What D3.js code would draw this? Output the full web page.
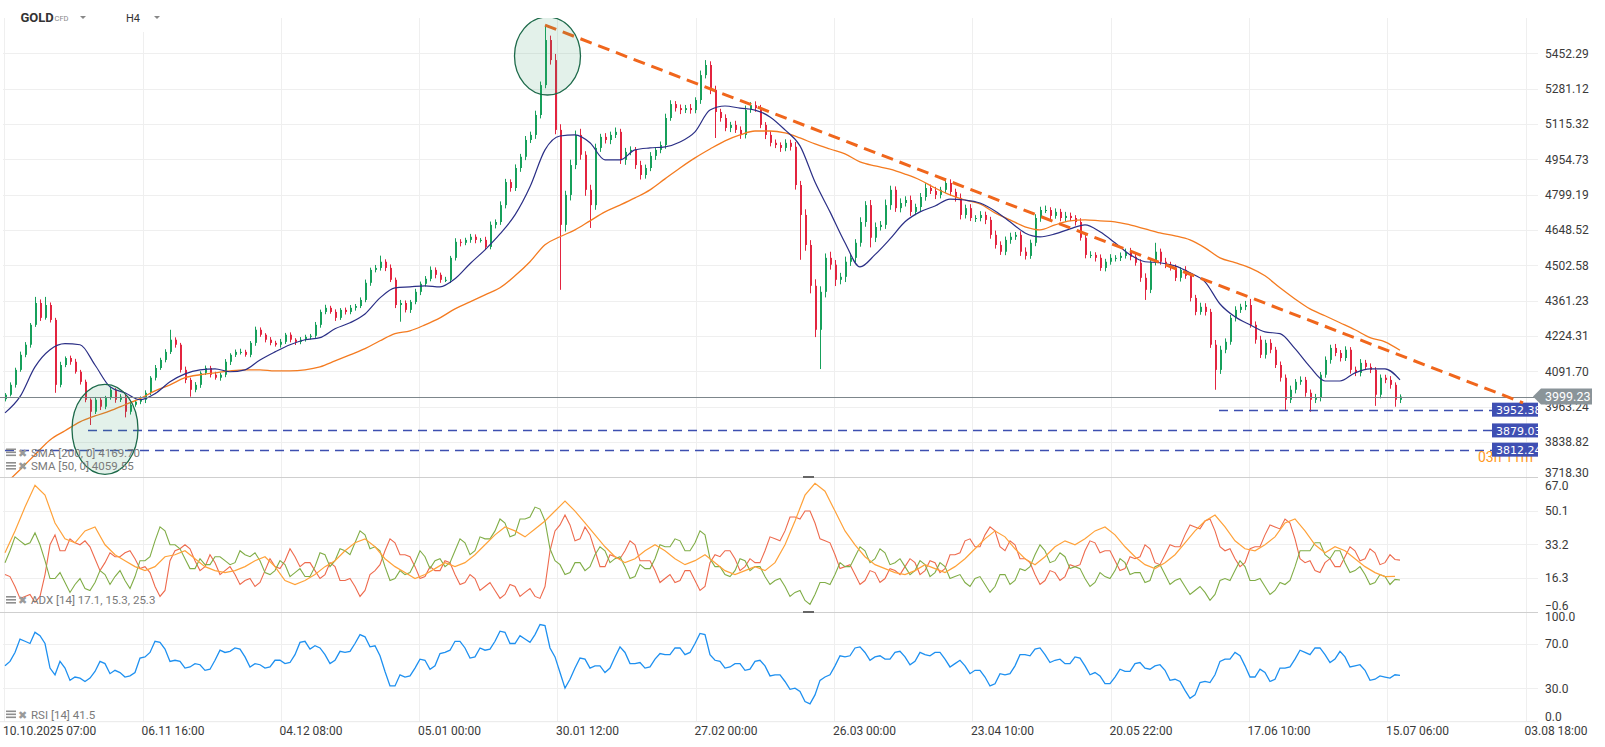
<!DOCTYPE html>
<html>
<head>
<meta charset="utf-8">
<script src="https://cdn.jsdelivr.net/npm/d3@7"></script>
<style>
  body { margin: 0; background: #fff; }
  svg text { font-family: Roboto, "Open Sans", sans-serif; }
</style>
</head>
<body>
<div id="chart"></div>
<script>
// ---- data ----
var firstOpen = 3990;
// closes, one bar per ~5 px of the original
var closes = [
  4006,4042,4097,4153,4191,4267,4352,4294,4344,4286,4042,4115,4141,4127,4090,4053,3988,3945,3988,3963,
  3995,4024,3988,3999,3945,3970,3981,3988,4013,4068,4104,4134,4164,4210,4191,4097,4060,4024,4042,4086,
  4104,4079,4068,4079,4127,4153,4164,4164,4153,4198,4248,4229,4210,4198,4191,4202,4229,4210,4202,4210,
  4221,4225,4267,4317,4333,4317,4294,4325,4317,4333,4340,4364,4432,4484,4492,4517,4492,4444,4344,4352,
  4325,4356,4396,4428,4448,4484,4464,4444,4444,4533,4599,4595,4607,4620,4607,4607,4578,4670,4682,4754,
  4854,4828,4916,4966,5042,5065,5157,5298,5518,5419,5088,4670,4798,4929,5065,4975,4820,4754,5006,5056,
  5042,5065,5079,4952,4988,4997,4929,4885,4916,4970,4997,5019,5143,5208,5189,5180,5189,5180,5227,5346,
  5395,5275,5171,5143,5097,5111,5088,5065,5180,5203,5189,5111,5065,5029,5019,5006,5029,5011,4841,4712,
  4586,4420,4248,4396,4533,4505,4444,4456,4517,4533,4595,4682,4754,4616,4661,4670,4754,4820,4741,4763,
  4776,4725,4746,4789,4828,4815,4798,4820,4850,4811,4785,4712,4741,4699,4699,4712,4691,4628,4586,4558,
  4607,4620,4628,4558,4541,4595,4699,4733,4733,4708,4725,4699,4708,4699,4682,4616,4545,4545,4533,4492,
  4517,4533,4533,4541,4558,4537,4513,4452,4404,4517,4558,4517,4505,4492,4452,4484,4460,4372,4317,4337,
  4317,4191,4097,4172,4202,4294,4325,4337,4344,4267,4210,4153,4198,4172,4115,4068,3988,4024,4053,4060,
  4013,3988,3995,4079,4134,4179,4160,4141,4172,4097,4086,4123,4108,4097,4006,4068,4060,4042,3988,3999.23
];
// wick length above the body, in $
var wickUp = [
  6,9,8,12,10,7,24,14,32,10,8,12,6,9,11,7,8,5,10,9,
  7,11,6,9,8,10,7,12,9,6,11,8,10,38,9,7,12,8,10,6,
  9,8,11,7,10,6,9,12,8,7,12,9,6,10,8,11,7,9,6,10,
  8,7,11,9,12,8,10,7,9,11,8,10,13,9,12,25,10,14,9,12,
  10,8,12,9,11,14,10,9,12,8,15,11,9,12,10,8,13,14,11,16,
  14,12,16,13,18,15,20,17,75,22,30,26,18,24,20,28,16,22,19,14,
  17,15,20,14,18,16,13,19,15,17,12,16,20,18,14,17,15,19,13,22,
  24,18,20,15,17,14,19,16,21,14,18,15,13,17,15,12,16,14,22,18,
  24,20,26,22,18,25,19,16,21,18,15,20,17,22,19,16,24,18,15,20,
  16,19,14,17,21,15,18,13,20,16,14,19,15,17,12,16,14,13,18,15,
  14,17,12,15,18,13,16,14,19,12,15,13,17,14,12,16,13,15,11,14,
  12,15,11,14,13,16,12,14,18,15,37,13,16,12,14,11,15,13,12,16,
  14,12,18,15,13,11,14,12,16,24,13,15,12,14,11,13,12,15,10,13,
  11,12,14,10,13,12,15,11,13,10,12,14,11,13,10,12,11,14,9,8
];
// wick length below the body, in $
var wickDn = [
  8,6,10,7,9,11,8,12,7,10,29,9,8,11,7,10,9,47,8,12,
  9,7,11,8,20,10,7,9,12,8,10,7,9,8,11,10,12,25,9,11,
  8,10,7,11,9,12,8,10,7,9,11,8,10,9,7,11,8,10,12,9,
  7,10,8,11,9,7,12,8,10,9,11,8,9,12,10,11,13,9,12,65,
  10,12,9,13,11,10,14,12,9,13,11,15,10,12,14,11,13,10,15,12,
  14,16,13,17,15,14,18,16,15,22,20,266,28,24,18,22,26,97,20,18,
  16,19,14,18,22,15,17,20,16,14,18,15,17,13,16,19,14,17,15,18,
  16,20,120,17,15,19,14,18,16,13,17,15,19,16,14,18,15,17,20,187,
  24,30,28,148,22,20,25,18,21,17,19,16,20,40,18,15,17,20,16,18,
  15,17,14,19,16,13,18,15,14,17,16,19,15,13,17,14,18,16,15,13,
  14,16,13,17,15,12,14,16,13,15,12,14,16,13,15,12,14,13,15,12,
  14,12,15,13,11,14,12,16,40,13,15,12,14,11,13,15,12,14,13,11,
  14,12,73,15,13,11,14,12,13,11,15,12,14,13,11,14,36,12,13,11,
  14,43,12,13,11,14,12,13,11,14,12,13,11,12,40,13,12,14,25,12
];
// moving averages, one value every 3 bars
var sma50 = [
  3941,3999,4108,4172,4195,4191,4115,4035,4013,3988,4010,4053,4082,4097,4101,4090,4097,4134,4164,4191,
  4210,4218,4252,4275,4309,4372,4412,4416,4420,4416,4448,4509,4566,4632,4712,4833,4997,5060,5065,5029,
  4952,4952,4997,5006,5011,5033,5079,5180,5199,5189,5180,5148,5088,5015,4854,4725,4595,4496,4546,4611,
  4683,4725,4750,4780,4776,4763,4729,4683,4636,4620,4632,4653,4670,4641,4595,4546,4517,4513,4500,4472,
  4436,4348,4298,4267,4240,4233,4176,4108,4056,4056,4086,4101,4101,4060
];
var sma200 = [
  3695,3744,3795,3846,3878,3909,3930,3948,3970,3992,4020,4042,4068,4079,4086,4093,4097,4097,4093,4093,
  4097,4108,4130,4153,4176,4206,4233,4244,4267,4294,4329,4356,4384,4412,4460,4517,4587,4620,4649,4687,
  4725,4754,4785,4820,4868,4916,4961,5001,5038,5065,5083,5083,5074,5051,5024,5001,4979,4943,4925,4911,
  4889,4863,4828,4798,4776,4759,4721,4691,4662,4649,4670,4687,4691,4687,4683,4670,4653,4636,4624,4607,
  4574,4533,4513,4492,4460,4412,4368,4329,4302,4275,4248,4218,4202,4170
];
// ADX(14) main line, one value every 2 bars
var adxLine = [
  29,40,52,63,58,44,36,34,40,42,33,28,25,22,20,22,27,28,30,26,
  22,20,19,20,22,25,27,22,15,13,15,18,22,25,30,34,36,32,26,22,
  19,16,18,21,24,22,24,28,33,38,42,40,37,41,45,50,55,50,44,38,
  32,27,24,26,30,33,30,26,23,25,28,24,20,18,20,22,20,24,33,45,
  58,64,60,50,40,33,27,23,21,19,18,20,23,21,19,22,26,31,36,40,
  37,31,26,23,27,32,35,33,36,40,42,38,32,27,23,21,24,28,34,40,
  45,48,42,35,31,30,33,37,44,46,40,33,29,32,30,26,22,19,17,17.1
];
// +DI and -DI, one value per bar
var plusDI = [
  24,30,37,35,33,34,39,33,25,16,16,19,14,9,13,16,11,10,14,20,18,13,17,20,15,11,17,25,25,27,35,42,40,33,33,31,26,21,21,26,
  23,23,27,27,25,23,24,30,28,27,29,25,19,18,20,25,23,17,19,21,17,17,22,29,28,22,25,31,30,28,34,40,38,31,32,30,22,15,16,20,
  18,19,24,30,27,21,25,26,22,24,30,36,34,28,30,37,36,36,40,46,44,37,38,46,46,47,52,51,45,31,25,23,18,19,24,24,20,22,28,32,
  30,24,26,27,22,16,17,23,21,21,26,33,32,32,36,35,30,30,34,40,38,26,22,22,18,17,20,26,25,20,22,22,17,13,15,16,12,7,9,10,
  5,3,8,14,14,13,18,24,22,22,27,32,30,24,26,31,29,23,24,26,22,18,20,25,23,17,19,24,22,16,17,18,14,12,16,17,13,9,12,18,
  18,13,15,21,20,22,28,33,30,24,25,29,27,21,22,21,16,12,14,19,17,16,20,26,24,18,19,19,14,15,22,23,18,13,15,16,12,8,10,12,
  9,5,8,15,16,15,20,25,22,15,15,16,12,8,10,14,13,15,22,30,30,30,34,34,28,26,30,30,24,19,20,22,18,13,14,18,17,13,15.6,15.3
];
var minusDI = [
  18,17,12,6,7,8,4,7,18,33,38,30,30,36,34,33,35,32,26,20,24,29,27,27,29,30,26,21,22,19,12,7,10,25,30,31,33,31,25,20,
  22,28,24,18,20,22,18,13,15,16,12,14,20,26,22,21,25,31,27,22,24,24,20,16,18,24,22,15,15,16,12,7,10,18,20,23,30,36,34,28,
  28,27,22,16,17,22,20,20,25,24,18,13,14,18,16,10,12,14,10,6,8,13,12,7,9,11,7,6,12,30,40,43,48,43,35,36,42,38,30,22,
  22,28,27,26,30,35,33,25,25,25,20,14,16,18,14,15,20,20,15,10,12,24,28,27,30,30,26,20,22,26,24,24,30,37,36,35,40,47,47,46,
  50,50,44,36,35,34,28,21,22,23,18,13,15,20,19,14,16,21,20,18,22,26,24,18,20,25,24,19,21,28,28,29,35,36,32,32,38,42,40,32,
  30,35,33,26,26,24,18,13,15,20,19,15,17,23,22,23,30,35,34,29,30,30,25,20,21,27,26,27,33,31,24,23,28,33,32,32,38,43,42,41,
  45,46,40,32,30,31,26,22,24,31,32,32,38,43,42,41,46,44,36,26,24,25,20,19,24,26,22,22,27,32,30,25,26,31,29,23,24,28,25.6,25.3
];
// RSI(14), one value per bar
var rsi = [
  50,54,62,74,72,70,80,77,70,48,42,54,48,37,40,39,36,39,45,54,52,43,46,44,40,41,44,57,58,62,72,71,65,54,55,54,48,49,52,51,
  46,47,55,64,62,63,66,65,58,49,52,51,48,49,55,55,52,53,60,71,72,65,68,66,60,52,55,63,62,63,70,78,76,67,68,59,45,32,32,42,
  40,41,48,56,55,47,50,61,62,64,72,72,66,57,58,66,64,65,72,81,80,70,70,77,74,71,78,87,86,66,58,44,30,38,48,57,56,48,50,50,
  44,48,58,67,62,52,52,53,48,49,56,61,60,60,66,66,60,62,70,79,78,60,55,54,48,49,52,52,46,47,54,55,50,41,42,42,36,29,30,27,
  18,16,24,37,40,42,50,59,58,59,66,67,62,55,58,59,56,56,62,63,58,51,54,62,60,59,62,62,56,49,52,55,50,43,46,46,40,32,34,43,
  42,43,50,60,60,59,65,66,60,53,55,56,52,52,58,57,50,42,44,41,34,34,40,47,45,45,52,53,48,47,50,51,46,37,38,36,28,21,24,35,
  36,35,42,54,56,56,62,59,50,40,40,47,44,36,38,48,48,49,56,64,62,60,66,66,60,53,56,63,58,49,50,51,46,37,38,41,40,39,42,41.5
];
var priceTicks = [3718.30,3838.82,3963.24,4091.70,4224.31,4361.23,4502.58,4648.52,4799.19,4954.73,5115.32,5281.12,5452.29];
var adxTicks = [-0.6,16.3,33.2,50.1,67.0];
var rsiTicks = [0,30,70,100];
var timeLabels = ["10.10.2025 07:00","06.11 16:00","04.12 08:00","05.01 00:00","30.01 12:00","27.02 00:00",
                  "26.03 00:00","23.04 10:00","20.05 22:00","17.06 10:00","15.07 06:00","03.08 18:00"];
var timeTickBar = [-0.2,27.5,55.1,82.8,110.4,138.1,165.8,193.4,221.1,248.7,276.4,304.1];
var levels = [3952.38,3879.03,3812.24];
var levelFromBar = [242.8,16.6,0];
var lastPrice = 3999.23;
var trendA = {bar: 108, price: 5593}, trendB = {bar: 303.6, price: 3977};
var circles = [{bar: 20, price: 3883, rx: 33, ry: 45}, {bar: 108.5, price: 5439, rx: 33, ry: 39}];

// ---- layout ----
var W = 1605, H = 747;
var plotR = 1538;
var priceTop = 18, priceBot = 477.3, adxBot = 611.5, rsiBot = 721.7;

var svg = d3.select("#chart").append("svg")
  .attr("width", W).attr("height", H);
svg.append("rect").attr("width", W).attr("height", H).attr("fill", "#fff");

var x = d3.scaleLinear().domain([0, closes.length - 1]).range([5, 1400]);
var yP = d3.scaleLog().domain([3718.30, 5452.29]).range([477.3, 53.3]);
var yA = d3.scaleLinear().domain([-0.6, 67.0]).range([adxBot, priceBot]);
var yR = d3.scaleLinear().domain([0, 100]).range([rsiBot, 610]);

var defs = svg.append("defs");
function clip(id, y0, y1) {
  defs.append("clipPath").attr("id", id).append("rect")
    .attr("x", 0).attr("y", y0).attr("width", plotR).attr("height", y1 - y0);
  return "url(#" + id + ")";
}
var clipP = clip("cp", priceTop, priceBot);
var clipA = clip("ca", priceBot, adxBot);
var clipR = clip("cr", adxBot, rsiBot);

// grid
var grid = svg.append("g").attr("stroke", "#efefef").attr("stroke-width", 1);
function hgrid(vals, y) {
  grid.append("g").selectAll("line").data(vals).enter().append("line")
    .attr("x1", 3).attr("x2", plotR)
    .attr("y1", function(d) { return Math.round(y(d)) + 0.5; })
    .attr("y2", function(d) { return Math.round(y(d)) + 0.5; });
}
grid.append("g").selectAll("line").data(timeTickBar).enter().append("line")
  .attr("x1", function(d) { return Math.round(x(d)) + 0.5; })
  .attr("x2", function(d) { return Math.round(x(d)) + 0.5; })
  .attr("y1", priceTop).attr("y2", rsiBot);
hgrid(priceTicks.slice(1), yP);
hgrid([16.3, 33.2, 50.1], yA);
hgrid([30, 70], yR);
svg.append("line").attr("x1", 0).attr("x2", plotR).attr("y1", rsiBot).attr("y2", rsiBot)
  .attr("stroke", "#e8e8e8");

// panel separators
[priceBot, adxBot].forEach(function(yy) {
  svg.append("line").attr("x1", 0).attr("x2", plotR).attr("y1", Math.round(yy) + 0.5).attr("y2", Math.round(yy) + 0.5)
    .attr("stroke", "#cfcfcf");
  svg.append("rect").attr("x", 803).attr("y", Math.round(yy) - 1).attr("width", 11).attr("height", 2)
    .attr("fill", "#666");
});

// ---- price panel ----
var pg = svg.append("g").attr("clip-path", clipP);

var candles = closes.map(function(c, i) {
  var o = i ? closes[i - 1] : firstOpen;
  return { i: i, o: o, c: c, h: Math.max(o, c) + wickUp[i], l: Math.min(o, c) - wickDn[i] };
});
var upCol = "#17a05b", dnCol = "#e3243f";

var cg = pg.append("g");
cg.selectAll(".wick").data(candles).enter().append("line")
  .attr("x1", function(d) { return Math.round(x(d.i)) + 0.5; })
  .attr("x2", function(d) { return Math.round(x(d.i)) + 0.5; })
  .attr("y1", function(d) { return yP(d.h); })
  .attr("y2", function(d) { return yP(d.l); })
  .attr("stroke", function(d) { return d.c >= d.o ? upCol : dnCol; })
  .attr("stroke-width", 1);
cg.selectAll(".body").data(candles).enter().append("rect")
  .attr("x", function(d) { return Math.round(x(d.i)); })
  .attr("width", 2)
  .attr("y", function(d) { return yP(Math.max(d.o, d.c)); })
  .attr("height", function(d) { return Math.max(1, yP(Math.min(d.o, d.c)) - yP(Math.max(d.o, d.c))); })
  .attr("fill", function(d) { return d.c >= d.o ? upCol : dnCol; });

var smaLine = d3.line()
  .x(function(d, k) { return x(k * 3); })
  .y(function(d) { return yP(d); })
  .curve(d3.curveMonotoneX);
pg.append("path").attr("d", smaLine(sma200)).attr("fill", "none")
  .attr("stroke", "#f47b20").attr("stroke-width", 1.3);
pg.append("path").attr("d", smaLine(sma50)).attr("fill", "none")
  .attr("stroke", "#2b2f86").attr("stroke-width", 1.2);

// current price line
pg.append("line").attr("x1", 0).attr("x2", plotR)
  .attr("y1", Math.round(yP(lastPrice)) + 0.5).attr("y2", Math.round(yP(lastPrice)) + 0.5)
  .attr("stroke", "#7d868b").attr("stroke-width", 1.2);

// support levels
var boxX = 1492;
levels.forEach(function(lv, j) {
  var yy = Math.round(yP(lv)) + 0.5;
  pg.append("line").attr("x1", x(levelFromBar[j])).attr("x2", boxX).attr("y1", yy).attr("y2", yy)
    .attr("stroke", "#3d4fb0").attr("stroke-width", 1.3).attr("stroke-dasharray", "9,6");
});

// countdown text (partly hidden)
pg.append("text").attr("x", 1478).attr("y", yP(levels[2]) + 12)
  .attr("fill", "#ff9a1f").attr("font-size", 14).text("03h 11m");

levels.forEach(function(lv) {
  var yy = yP(lv);
  pg.append("rect").attr("x", boxX).attr("y", yy - 7).attr("width", 50).attr("height", 14)
    .attr("fill", "#3f4fb3");
  pg.append("text").attr("x", boxX + 4).attr("y", yy + 4.5)
    .attr("fill", "#fff").attr("font-size", 11).style("font-family", "DejaVu Sans")
    .text(d3.format(".2f")(lv));
});

// trend line
pg.append("line")
  .attr("x1", x(trendA.bar)).attr("y1", yP(trendA.price))
  .attr("x2", x(trendB.bar)).attr("y2", yP(trendB.price))
  .attr("stroke", "#f0661c").attr("stroke-width", 3).attr("stroke-dasharray", "12,7");

// circles
circles.forEach(function(c) {
  pg.append("ellipse").attr("cx", x(c.bar)).attr("cy", yP(c.price))
    .attr("rx", c.rx).attr("ry", c.ry)
    .attr("fill", "#3c9a6c").attr("fill-opacity", 0.14)
    .attr("stroke", "#1d6a4a").attr("stroke-width", 1.3);
});

// ---- ADX panel ----
var ag = svg.append("g").attr("clip-path", clipA);
function ind(arr, y, step) {
  return d3.line().x(function(d, k) { return x(k * step); }).y(function(d) { return y(d); })(arr);
}
ag.append("path").attr("d", ind(minusDI, yA, 1)).attr("fill", "none").attr("stroke", "#ee6a4d").attr("stroke-width", 1.1);
ag.append("path").attr("d", ind(plusDI, yA, 1)).attr("fill", "none").attr("stroke", "#80ad47").attr("stroke-width", 1.1);
ag.append("path").attr("d", ind(adxLine, yA, 2)).attr("fill", "none").attr("stroke", "#ffa23a").attr("stroke-width", 1.2);

// ---- RSI panel ----
var rg = svg.append("g").attr("clip-path", clipR);
rg.append("path").attr("d", ind(rsi, yR, 1)).attr("fill", "none").attr("stroke", "#1e90f0").attr("stroke-width", 1.3);

// ---- axes ----
function sideAxis(scale, ticks, fmt, shift) {
  var g = svg.append("g").attr("transform", "translate(" + plotR + ",0)")
    .call(d3.axisRight(scale).tickValues(ticks).tickFormat(d3.format(fmt)).tickSize(0).tickPadding(7));
  g.select(".domain").remove();
  g.selectAll("text").attr("fill", "#3a3a3a").attr("font-size", 12)
    .style("font-family", "Roboto")
    .attr("dy", function(d) { return (0.32 + (shift[d] || 0) / 12) + "em"; });
  return g;
}
var pShift = {}; pShift[3718.30] = -4.5;
sideAxis(yP, priceTicks, ".2f", pShift);
var aShift = {}; aShift[67.0] = 8; aShift[-0.6] = -5.5;
sideAxis(yA, adxTicks, ".1f", aShift);
var rShift = {}; rShift[100] = 7; rShift[0] = -5;
sideAxis(yR, rsiTicks, ".1f", rShift);

// last price tag
var ly = yP(lastPrice);
svg.append("path")
  .attr("d", "M1533," + ly + " L1541," + (ly - 8) + " L1592," + (ly - 8) + " L1592," + (ly + 8) + " L1541," + (ly + 8) + " Z")
  .attr("fill", "#8a9499");
svg.append("text").attr("x", 1545).attr("y", ly + 4.5).attr("fill", "#fff")
  .attr("font-size", 12.5).text(d3.format(".2f")(lastPrice));

// time labels
svg.append("g").selectAll("text").data(timeLabels).enter().append("text")
  .attr("x", function(d, j) { return x(timeTickBar[j]) - 1; })
  .attr("y", 734.5)
  .attr("fill", "#3a3a3a").attr("font-size", 12)
  .text(function(d) { return d; });

// ---- legends ----
function legend(yy, label) {
  var g = svg.append("g").attr("transform", "translate(6," + yy + ")");
  [0, 3, 6].forEach(function(o) {
    g.append("rect").attr("x", 0).attr("y", -8 + o).attr("width", 10).attr("height", 1.6).attr("fill", "#8f8f8f");
  });
  g.append("text").attr("x", 12).attr("y", 0).attr("fill", "#9a9a9a").attr("font-size", 11)
    .style("font-family", "DejaVu Sans").text("\u2716");
  g.append("text").attr("x", 25).attr("y", 0).attr("fill", "#7a7a7a").attr("font-size", 11.5).text(label);
}
legend(456.5, "SMA [200, 0] 4169.70");
legend(470, "SMA [50, 0] 4059.55");
legend(604, "ADX [14] 17.1, 15.3, 25.3");
legend(718.5, "RSI [14] 41.5");

// ---- header ----
svg.append("rect").attr("x", 10).attr("y", 0).attr("width", 255).attr("height", 32).attr("fill", "#fff");
svg.append("text").attr("x", 20.5).attr("y", 22).attr("fill", "#333").attr("font-size", 13)
  .attr("font-weight", "bold").text("GOLD");
svg.append("text").attr("x", 54.5).attr("y", 21).attr("fill", "#8a8a8a").attr("font-size", 7.5).text("CFD");
svg.append("text").attr("x", 126).attr("y", 22).attr("fill", "#333").attr("font-size", 11).text("H4");
[80, 154].forEach(function(tx) {
  svg.append("path").attr("d", "M" + tx + ",16 L" + (tx + 6) + ",16 L" + (tx + 3) + ",19 Z").attr("fill", "#888");
});
</script>
</body>
</html>
